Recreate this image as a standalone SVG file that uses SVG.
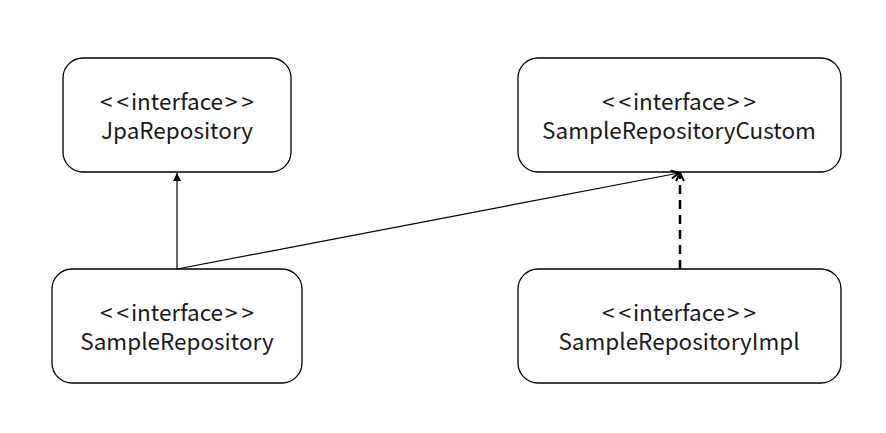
<svg xmlns="http://www.w3.org/2000/svg" width="886" height="433" viewBox="0 0 886 433">
<style>
.box{fill:#fff;stroke:#000;stroke-width:1.3}
text{font-family:"Noto Sans CJK KR","Open Sans",sans-serif;font-size:22.5px;text-anchor:middle;fill:#1a1a1a}
.c{fill:none;stroke:#000}
</style>
<defs>
<marker id="tri" viewBox="0 0 10 10" refX="10" refY="5" markerWidth="8" markerHeight="8" markerUnits="userSpaceOnUse" orient="auto"><path d="M0,0 L10,5 L0,10 z" fill="#000"/></marker>
<marker id="open" viewBox="0 0 10 10" refX="9" refY="5" markerWidth="10" markerHeight="10" markerUnits="userSpaceOnUse" orient="auto"><path d="M1,1 L9,5 L1,9" fill="none" stroke="#000" stroke-width="2"/></marker>
</defs>
<rect width="886" height="433" fill="#fff"/>
<g id="jpa"><rect class="box" x="63" y="58" width="228" height="114" rx="20"/><text x="177" y="110">&lt;<tspan dx="4">&lt;</tspan><tspan dx="2">interface</tspan><tspan dx="2">&gt;</tspan><tspan dx="4">&gt;</tspan></text><text x="177" y="139">JpaRepository</text></g>
<g id="custom"><rect class="box" x="518" y="58" width="323" height="114" rx="20"/><text x="679" y="110">&lt;<tspan dx="4">&lt;</tspan><tspan dx="2">interface</tspan><tspan dx="2">&gt;</tspan><tspan dx="4">&gt;</tspan></text><text x="679" y="139">SampleRepositoryCustom</text></g>
<g id="sample"><rect class="box" x="52" y="269" width="250" height="114" rx="20"/><text x="177" y="321">&lt;<tspan dx="4">&lt;</tspan><tspan dx="2">interface</tspan><tspan dx="2">&gt;</tspan><tspan dx="4">&gt;</tspan></text><text x="177" y="350">SampleRepository</text></g>
<g id="impl"><rect class="box" x="518" y="269" width="323" height="114" rx="20"/><text x="679" y="321">&lt;<tspan dx="4">&lt;</tspan><tspan dx="2">interface</tspan><tspan dx="2">&gt;</tspan><tspan dx="4">&gt;</tspan></text><text x="679" y="350">SampleRepositoryImpl</text></g>
<g id="connectors">
<line class="c" x1="177" y1="269" x2="177" y2="173" stroke-width="1.2" marker-end="url(#tri)"/>
<line class="c" x1="177" y1="269" x2="679" y2="173" stroke-width="1.2" marker-end="url(#open)"/>
<line class="c" x1="680" y1="269" x2="680" y2="173" stroke-width="2.5" stroke-dasharray="9,6" marker-end="url(#open)"/>
</g>
</svg>
